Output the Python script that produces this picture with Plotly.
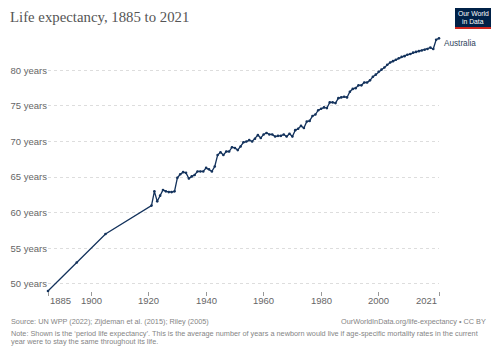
import plotly.graph_objects as go

# ---- data ----
years = [1885, 1895, 1905] + list(range(1921, 2022))
life_expectancy = [
    49.0, 53.0, 57.0,
    61.0, 63.0, 61.6, 62.4, 63.2, 63.0, 62.9, 62.9, 63.0,          # 1921-1929
    64.9, 65.4, 65.7, 65.6, 64.8, 65.1, 65.3, 65.8, 65.8, 65.8,    # 1930-1939
    66.3, 66.1, 65.8, 66.5, 68.1, 68.5, 68.1, 68.6, 68.6, 69.2,    # 1940-1949
    69.1, 68.8, 69.3, 69.9, 70.0, 70.2, 70.0, 70.4, 70.9, 70.5,    # 1950-1959
    71.0, 71.2, 71.0, 71.0, 70.7, 70.8, 70.8, 71.0, 70.7, 71.1,    # 1960-1969
    70.7, 71.6, 71.8, 72.2, 71.9, 72.8, 72.9, 73.6, 73.8, 74.4,    # 1970-1979
    74.6, 74.8, 74.7, 75.5, 75.5, 75.4, 76.1, 76.2, 76.3, 76.2,    # 1980-1989
    77.0, 77.4, 77.5, 77.9, 77.9, 78.3, 78.3, 78.6, 79.1, 79.4,    # 1990-1999
    79.8, 80.1, 80.4, 80.8, 81.1, 81.3, 81.5, 81.7, 81.9, 82.0,    # 2000-2009
    82.2, 82.3, 82.5, 82.6, 82.7, 82.8, 82.9, 83.0, 83.2, 83.0,    # 2010-2019
    84.3, 84.5,                                                    # 2020-2021
]
entity = "Australia"
x_ticks = [1885, 1900, 1920, 1940, 1960, 1980, 2000, 2021]
y_ticks = [50, 55, 60, 65, 70, 75, 80]
y_tick_text = [f"{v} years" for v in y_ticks]

title = "Life expectancy, 1885 to 2021"
source = "Source: UN WPP (2022); Zijdeman et al. (2015); Riley (2005)"
url = "OurWorldInData.org/life-expectancy • CC BY"
note1 = ("Note: Shown is the ‘period life expectancy’. This is the average number of years a newborn would live "
         "if age-specific mortality rates in the current")
note2 = "year were to stay the same throughout its life."

# ---- layout geometry ----
W, H = 500, 353
ML, MR, MT, MB = 48, 61, 38, 62
PW, PH = W - ML - MR, H - MT - MB


def px(x):
    return (x - ML) / PW


def py(y):
    return (H - MB - y) / PH


LINE = "#13325c"
SANS = "Liberation Sans, Arial, sans-serif"

fig = go.Figure()
fig.add_trace(go.Scatter(
    x=years, y=life_expectancy, mode="lines+markers",
    line=dict(color=LINE, width=1.3),
    marker=dict(color=LINE, size=2.6),
    cliponaxis=False, showlegend=False, name=entity,
))

annotations = []
# x tick labels (first left-aligned, last right-aligned like OWID)
for i, t in enumerate(x_ticks):
    anchor = "left" if i == 0 else ("right" if i == len(x_ticks) - 1 else "center")
    annotations.append(dict(x=t, y=py(300), xref="x", yref="paper", text=str(t),
                            showarrow=False, xanchor=anchor, yanchor="middle",
                            font=dict(family=SANS, size=9.5, color="#666666")))
# series label
annotations.append(dict(x=px(442), y=py(43), xref="paper", yref="paper", text=entity,
                        showarrow=False, xanchor="left", yanchor="middle",
                        font=dict(family=SANS, size=8.2, color="#2e3f5c")))
# title
annotations.append(dict(x=px(8), y=py(17), xref="paper", yref="paper", text=title,
                        showarrow=False, xanchor="left", yanchor="middle",
                        font=dict(family="Liberation Serif, Times New Roman, serif", size=14.8, color="#555555")))
# footer
foot = dict(family=SANS, size=7.3, color="#858585")
annotations.append(dict(x=px(9), y=py(321), xref="paper", yref="paper", text=source,
                        showarrow=False, xanchor="left", yanchor="middle", font=foot))
annotations.append(dict(x=px(488), y=py(321), xref="paper", yref="paper", text=url,
                        showarrow=False, xanchor="right", yanchor="middle", font=foot))
annotations.append(dict(x=px(9), y=py(333), xref="paper", yref="paper", text=note1,
                        showarrow=False, xanchor="left", yanchor="middle", font=foot))
annotations.append(dict(x=px(9), y=py(341.5), xref="paper", yref="paper", text=note2,
                        showarrow=False, xanchor="left", yanchor="middle", font=foot))
# logo text
logo_font = dict(family=SANS, size=6.8, color="#ffffff")
annotations.append(dict(x=px(473), y=py(13.5), xref="paper", yref="paper", text="Our World",
                        showarrow=False, xanchor="center", yanchor="middle", font=logo_font))
annotations.append(dict(x=px(473), y=py(21.5), xref="paper", yref="paper", text="in Data",
                        showarrow=False, xanchor="center", yanchor="middle", font=logo_font))

shapes = [
    dict(type="rect", xref="paper", yref="paper", x0=px(455), x1=px(491), y0=py(27), y1=py(8),
         fillcolor="#002147", line=dict(width=0), layer="above"),
    dict(type="rect", xref="paper", yref="paper", x0=px(455), x1=px(491), y0=py(29), y1=py(27),
         fillcolor="#ce261e", line=dict(width=0), layer="above"),
]

fig.update_layout(
    width=W, height=H,
    margin=dict(l=ML, r=MR, t=MT, b=MB, pad=0),
    paper_bgcolor="white", plot_bgcolor="white",
    annotations=annotations, shapes=shapes,
    xaxis=dict(range=[1885, 2021], tickvals=x_ticks, showticklabels=False,
               ticks="outside", ticklen=4, tickcolor="#999999", tickwidth=1,
               showgrid=False, zeroline=False, showline=False, fixedrange=True),
    yaxis=dict(range=[49.0, 84.55], tickvals=y_ticks, ticktext=y_tick_text,
               tickfont=dict(family=SANS, size=9.5, color="#666666"),
               showgrid=True, gridcolor="#dddddd", griddash="dot", gridwidth=1,
               zeroline=False, showline=False, ticks="", ticklabelstandoff=0,
               automargin=False, fixedrange=True),
)

fig.write_html("out.html")
